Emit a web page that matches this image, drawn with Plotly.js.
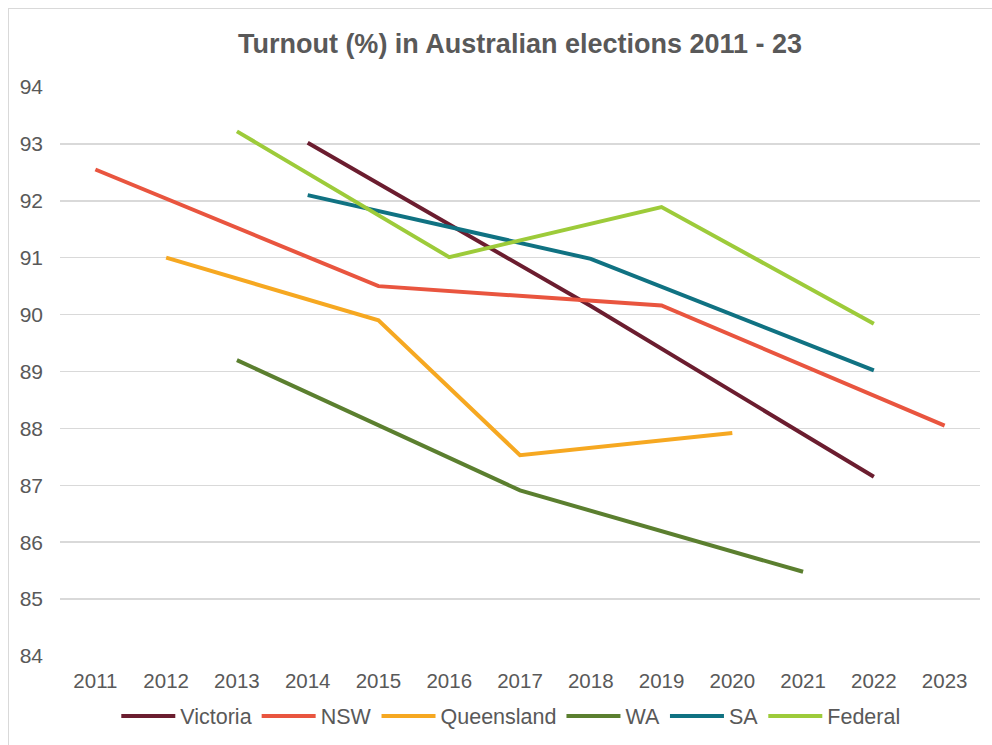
<!DOCTYPE html>
<html>
<head>
<meta charset="utf-8">
<script src="https://cdn.plot.ly/plotly-3.0.1.min.js"></script>
<style>
  html, body { margin: 0; padding: 0; background: #ffffff; }
  #chart { width: 992px; height: 745px; position: absolute; left: 0; top: 0; }
  #frame { position: absolute; left: 8px; top: 8px; width: 990px; height: 745px;
           border: 1px solid #d9d9d9; pointer-events: none; }
</style>
</head>
<body>
<div id="chart"></div>
<div id="frame"></div>
<script>
const years = ['2011','2012','2013','2014','2015','2016','2017','2018','2019','2020','2021','2022','2023'];

const victoriaYears = ['2014','2018','2022'];
const victoriaVals  = [93.02, 90.15, 87.15];

const nswYears = ['2011','2015','2019','2023'];
const nswVals  = [92.55, 90.5, 90.16, 88.05];

const qldYears = ['2012','2015','2017','2020'];
const qldVals  = [91.0, 89.9, 87.53, 87.92];

const waYears = ['2013','2017','2021'];
const waVals  = [89.2, 86.91, 85.48];

const saYears = ['2014','2018','2022'];
const saVals  = [92.1, 90.98, 89.02];

const fedYears = ['2013','2016','2019','2022'];
const fedVals  = [93.22, 91.01, 91.89, 89.84];

const yTicks = [84, 85, 86, 87, 88, 89, 90, 91, 92, 93, 94];

const FONT = '"Liberation Sans", Arial, sans-serif';

function line(name, x, y, color) {
  return { type: 'scatter', mode: 'lines', name: name, x: x, y: y,
           line: { color: color, width: 4 }, hoverinfo: 'x+y' };
}

const data = [
  line('Victoria', victoriaYears, victoriaVals, '#6b1d2f'),
  line('NSW', nswYears, nswVals, '#e9553f'),
  line('Queensland', qldYears, qldVals, '#f6a821'),
  line('WA', waYears, waVals, '#5b7f2f'),
  line('SA', saYears, saVals, '#107282'),
  line('Federal', fedYears, fedVals, '#9dcb3a')
];

const layout = {
  width: 992, height: 745,
  margin: { l: 60, r: 12, t: 87, b: 89, autoexpand: false },
  paper_bgcolor: 'rgba(0,0,0,0)',
  plot_bgcolor: '#ffffff',
  font: { family: FONT, color: '#595959', size: 21 },
  title: {
    text: '<b>Turnout (%) in Australian elections 2011 - 23</b>',
    font: { family: FONT, size: 27, color: '#595959' },
    x: 0.5, xref: 'paper', xanchor: 'center',
    y: 44, yref: 'container', yanchor: 'middle'
  },
  xaxis: {
    type: 'category',
    categoryorder: 'array', categoryarray: years,
    tickvals: years, ticktext: years,
    range: [-0.5, 12.5],
    showgrid: false, zeroline: false, showline: false,
    ticks: '', ticklabelstandoff: 10,
    tickfont: { family: FONT, size: 20.5, color: '#595959' }
  },
  yaxis: {
    range: [84, 94],
    tickvals: yTicks,
    showgrid: true, gridcolor: '#d9d9d9', gridwidth: 1.5,
    zeroline: false, showline: false, ticks: '',
    ticklabelstandoff: 16,
    tickfont: { family: FONT, size: 21, color: '#595959' }
  },
  showlegend: true,
  legend: {
    orientation: 'h', x: 0.49, xanchor: 'center',
    yref: 'container', y: 0.039, yanchor: 'middle',
    itemwidth: 54,
    font: { family: FONT, size: 21.5, color: '#595959' }, bgcolor: 'rgba(0,0,0,0)'
  }
};

Plotly.newPlot('chart', data, layout, { displayModeBar: false, staticPlot: true });
</script>
</body>
</html>
